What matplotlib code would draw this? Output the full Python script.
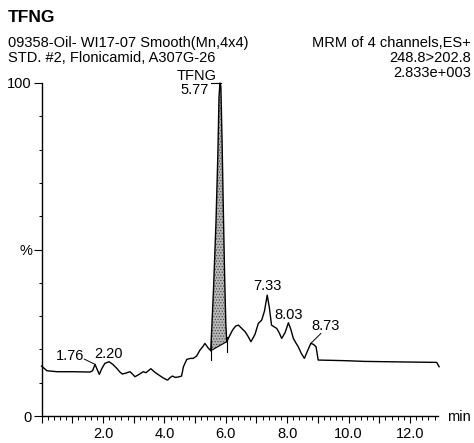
import matplotlib
matplotlib.use('Agg')
import matplotlib.pyplot as plt
from matplotlib.ticker import MultipleLocator, FuncFormatter

plt.rcParams['font.family'] = ['Liberation Sans', 'DejaVu Sans']
plt.rcParams['hatch.linewidth'] = 0.6

# chromatogram trace (retention time in min, relative intensity %)
times = [0.00, 0.17, 0.50, 1.00, 1.58, 1.66, 1.74, 1.80, 1.88, 1.96, 2.06, 2.20,
         2.32, 2.45, 2.55, 2.63, 2.75, 2.88, 2.96, 3.04, 3.16, 3.31, 3.40, 3.56,
         3.68, 3.82, 3.95, 4.07, 4.11, 4.18, 4.26, 4.35, 4.45, 4.56, 4.62, 4.73,
         4.85, 4.94, 5.05, 5.16, 5.25, 5.32, 5.42, 5.51,
         5.60, 5.68, 5.74, 5.78, 5.81, 5.84, 5.88, 5.92, 5.96, 6.00, 6.03,
         6.12, 6.22, 6.32, 6.41, 6.52, 6.63, 6.72, 6.82, 6.95, 7.06, 7.17, 7.26,
         7.35, 7.42, 7.49, 7.57, 7.66, 7.74, 7.82, 7.93, 8.04, 8.12, 8.20, 8.28,
         8.36, 8.46, 8.56, 8.66, 8.77, 8.86, 8.94, 9.01, 9.50, 9.94, 10.50, 11.24,
         12.00, 12.87, 12.95]
intensity = [15.0, 13.6, 13.3, 13.3, 13.2, 13.6, 15.5, 14.2, 12.5, 14.2, 15.8, 16.3,
             15.5, 14.3, 13.2, 12.6, 12.9, 13.3, 12.6, 11.8, 12.4, 13.3, 13.0, 14.2,
             13.2, 12.3, 11.5, 10.9, 10.8, 11.5, 12.0, 11.6, 11.7, 12.0, 14.8, 17.0,
             17.3, 17.3, 18.0, 19.8, 20.8, 21.8, 20.5, 19.6,
             38.0, 58.0, 78.0, 96.0, 100.0, 99.0, 82.0, 62.0, 43.0, 28.0, 22.3,
             24.0, 25.8, 27.0, 27.3, 26.3, 25.3, 24.0, 22.3, 24.5, 27.8, 28.8, 31.5,
             36.3, 32.5, 27.3, 26.8, 26.3, 25.0, 23.3, 25.0, 28.0, 26.0, 23.3, 22.0,
             20.8, 18.8, 17.3, 19.5, 21.8, 21.5, 20.8, 16.8, 16.7, 16.6, 16.4, 16.3,
             16.2, 16.1, 14.8]

# integrated peak (TFNG) and its baseline
peak_start = (5.51, 19.6)
peak_end = (6.03, 22.3)

# peak labels: text, label position (t, %), point on the trace
peak_labels = ['1.76', '2.20', '7.33', '8.03', '8.73']
label_pos = [(0.92, 18.0), (2.17, 18.6), (7.35, 39.0), (8.06, 30.3), (9.25, 27.0)]
label_tip = [(1.74, 15.5), None, None, None, (8.77, 21.8)]

FS = 10.5

fig = plt.figure(figsize=(4.74, 4.43), dpi=100)
ax = fig.add_axes([41.6 / 474, 27 / 443, 396 / 474, 333 / 443])

ax.plot(times, intensity, color='black', lw=1.0, clip_on=False)

# shaded peak area above the integration baseline
i0 = times.index(peak_start[0])
i1 = times.index(peak_end[0])
pt = times[i0:i1 + 1]
pv = intensity[i0:i1 + 1]
base = [peak_start[1] + (t - peak_start[0]) * (peak_end[1] - peak_start[1]) /
        (peak_end[0] - peak_start[0]) for t in pt]
ax.fill_between(pt, base, pv, facecolor='#b8b8b8', edgecolor='#4a4a4a',
                hatch='......', lw=0)
ax.plot([peak_start[0], peak_end[0]], [peak_start[1], peak_end[1]],
        color='black', lw=0.8)
ax.plot([peak_start[0]] * 2, [16.8, 22.8], color='black', lw=0.8)
ax.plot([peak_end[0]] * 2, [19.3, 23.8], color='black', lw=0.8)

# peak name and apex time
ax.text(5.05, 102.0, 'TFNG', ha='center', va='center', fontsize=FS)
ax.text(4.99, 97.8, '5.77', ha='center', va='center', fontsize=FS)
ax.plot([5.52, 5.83], [100.1, 100.1], color='black', lw=0.8, clip_on=False)

for txt, pos, tip in zip(peak_labels, label_pos, label_tip):
    ax.text(pos[0], pos[1], txt, ha='center', va='center', fontsize=FS)
    if tip is not None:
        if txt == '1.76':
            ax.plot([1.39, tip[0]], [17.1, tip[1]], color='black', lw=0.7)
        else:
            ax.plot([9.1, tip[0]], [24.8, tip[1]], color='black', lw=0.7)

ax.set_xlim(0, 12.9)
ax.set_ylim(0, 100)
ax.spines['top'].set_visible(False)
ax.spines['right'].set_visible(False)
ax.spines['left'].set_linewidth(1.0)
ax.spines['bottom'].set_linewidth(1.0)

ax.xaxis.set_major_locator(MultipleLocator(1.0))
ax.xaxis.set_minor_locator(MultipleLocator(0.2))
ax.xaxis.set_major_formatter(FuncFormatter(
    lambda v, p: '%.1f' % v if (round(v) % 2 == 0 and v > 0.5) else ''))
ax.tick_params(axis='x', which='major', length=5, width=0.8, labelsize=FS, pad=3)
ax.tick_params(axis='x', which='minor', length=3, width=0.7)

ax.set_yticks([0, 50, 100])
ax.set_yticklabels(['0', '%', '100'])
ax.yaxis.set_minor_locator(MultipleLocator(10))
ax.tick_params(axis='y', which='major', length=6, width=0.8, labelsize=FS, pad=1)
ax.tick_params(axis='y', which='minor', length=2, width=0.7)

fig.text(471 / 474, 1 - 417 / 443, 'min', ha='right', va='center', fontsize=FS)

# header
fig.text(8 / 474, 1 - 18 / 443, 'TFNG', ha='left', va='center',
         fontsize=12.5, fontweight='bold')
fig.text(8 / 474, 1 - 43 / 443, '09358-Oil- WI17-07 Smooth(Mn,4x4)',
         ha='left', va='center', fontsize=FS)
fig.text(8 / 474, 1 - 58 / 443, 'STD. #2, Flonicamid, A307G-26',
         ha='left', va='center', fontsize=FS)
fig.text(471 / 474, 1 - 43 / 443, 'MRM of 4 channels,ES+',
         ha='right', va='center', fontsize=FS)
fig.text(471 / 474, 1 - 58 / 443, '248.8>202.8',
         ha='right', va='center', fontsize=FS)
fig.text(471 / 474, 1 - 73 / 443, '2.833e+003',
         ha='right', va='center', fontsize=FS)

fig.savefig('out.png', dpi=100)
